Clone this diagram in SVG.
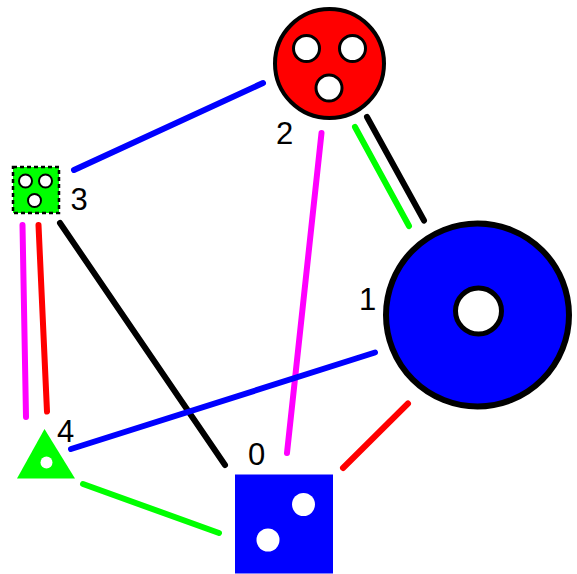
<svg xmlns="http://www.w3.org/2000/svg" width="577" height="574" viewBox="0 0 577 574">
<style>
.e{stroke-width:6;stroke-linecap:round;fill:none}
.lbl{font-family:"Liberation Sans",Arial,sans-serif;font-size:31px;fill:#000}
.hole{fill:#fff;stroke:#000}
</style>
<rect width="577" height="574" fill="#fff"/>
<g id="connectors">
<line class="e" stroke="#0000ff" x1="74" y1="170" x2="263" y2="83"/>
<line class="e" stroke="#ff00ff" x1="321.5" y1="133" x2="287" y2="453"/>
<line class="e" stroke="#00ff00" x1="355" y1="127" x2="409" y2="226"/>
<line class="e" stroke="#000000" x1="367" y1="117" x2="424" y2="220.5"/>
<line class="e" stroke="#000000" x1="60" y1="223" x2="225" y2="465"/>
<line class="e" stroke="#ff00ff" x1="22.5" y1="225" x2="26" y2="417"/>
<line class="e" stroke="#ff0000" x1="38.5" y1="225" x2="47" y2="411.5"/>
<line class="e" stroke="#0000ff" x1="71" y1="449" x2="375" y2="352.5"/>
<line class="e" stroke="#ff0000" x1="408" y1="403.5" x2="343" y2="468"/>
<line class="e" stroke="#00ff00" x1="83" y1="484" x2="219" y2="533"/>
</g>
<g id="node0">
<rect x="235" y="474.5" width="98" height="99" fill="#0000ff"/>
<circle cx="303.5" cy="504.5" r="11.5" fill="#fff"/>
<circle cx="268" cy="540" r="11.5" fill="#fff"/>
<text class="lbl" x="248" y="465">0</text>
</g>
<g id="node1">
<circle cx="477.5" cy="315" r="91.5" fill="#0000ff" stroke="#000" stroke-width="6"/>
<circle class="hole" cx="478.5" cy="311" r="23" stroke-width="5"/>
<text class="lbl" x="359" y="309.5">1</text>
</g>
<g id="node2">
<circle cx="329.5" cy="63.5" r="54.5" fill="#ff0000" stroke="#000" stroke-width="4"/>
<circle class="hole" cx="306.5" cy="48.5" r="13" stroke-width="3"/>
<circle class="hole" cx="352.5" cy="48.5" r="13" stroke-width="3"/>
<circle class="hole" cx="329" cy="88" r="13" stroke-width="3"/>
<text class="lbl" x="276" y="144">2</text>
</g>
<g id="node3">
<rect x="13" y="167" width="46" height="46" fill="#00ff00" stroke="#000" stroke-width="2.5" stroke-dasharray="4,3"/>
<circle class="hole" cx="25.5" cy="181" r="6.5" stroke-width="2"/>
<circle class="hole" cx="45.5" cy="181" r="6.5" stroke-width="2"/>
<circle class="hole" cx="34.5" cy="200.5" r="6.5" stroke-width="2"/>
<text class="lbl" x="70.5" y="210">3</text>
</g>
<g id="node4">
<polygon points="44.5,429 17,478.5 75,478.5" fill="#00ff00"/>
<circle cx="46.5" cy="462.5" r="6" fill="#fff"/>
<text class="lbl" x="57" y="442">4</text>
</g>
</svg>
